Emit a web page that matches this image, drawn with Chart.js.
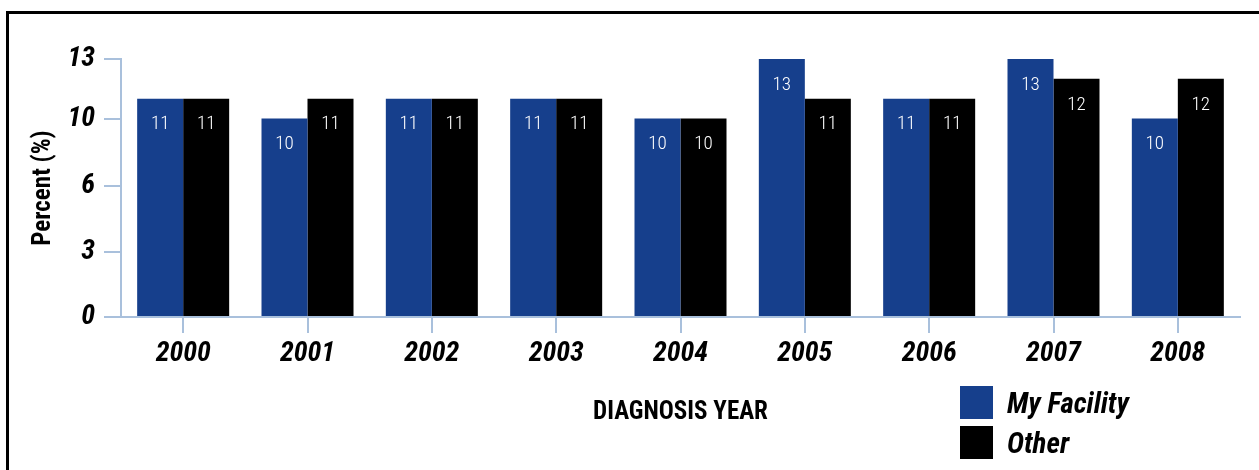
<!DOCTYPE html>
<html>
<head>
<meta charset="utf-8">
<script src="https://cdn.jsdelivr.net/npm/chart.js@4.4.1/dist/chart.umd.min.js"></script>
<style>
  html, body { margin: 0; padding: 0; background: #fff; overflow: hidden; }
  #wrap { position: relative; width: 1259px; height: 470px; }
  #frame { position: absolute; left: 6px; top: 11px; width: 1300px; height: 500px;
           border-top: 3px solid #000; border-left: 3px solid #000; pointer-events: none; }
  canvas { position: absolute; left: 0; top: 0; }
</style>
</head>
<body>
<div id="wrap">
  <canvas id="c" width="1259" height="470"></canvas>
  <div id="frame"></div>
</div>
<script>
// Diagnosis years and the share (%) for each facility group
const years = ['2000', '2001', '2002', '2003', '2004', '2005', '2006', '2007', '2008'];
const myFacility = [11, 10, 11, 11, 10, 13, 11, 13, 10];
const other = [11, 11, 11, 11, 10, 11, 11, 12, 12];
// Y-axis tick positions and the rounded labels printed beside them
const yTickValues = [0, 3.3, 6.6, 10, 13];
const yTickLabels = ['0', '3', '6', '10', '13'];

const BLUE = '#163f8c';
const AXIS = '#a9c0dc';
const NARROW = '"Roboto Condensed", "Liberation Sans Narrow", sans-serif';

// White value labels inside the top of each bar
const barValues = {
  id: 'barValues',
  afterDatasetsDraw(chart) {
    const ctx = chart.ctx;
    ctx.save();
    ctx.fillStyle = '#fff';
    ctx.font = '300 19px ' + NARROW;
    ctx.textAlign = 'center';
    ctx.textBaseline = 'middle';
    chart.data.datasets.forEach((ds, di) => {
      chart.getDatasetMeta(di).data.forEach((bar, i) => {
        ctx.fillText(String(ds.data[i]), bar.x, bar.y + 26);
      });
    });
    ctx.restore();
  }
};

// Legend with square swatches, stacked below the right end of the axis
const squareLegend = {
  id: 'squareLegend',
  afterDraw(chart) {
    const ctx = chart.ctx;
    const area = chart.chartArea;
    const x0 = area.right - 280;
    let y = area.bottom + 69;
    ctx.save();
    ctx.font = 'italic bold 29px ' + NARROW;
    ctx.textBaseline = 'middle';
    ctx.textAlign = 'left';
    chart.data.datasets.forEach(ds => {
      ctx.fillStyle = ds.backgroundColor;
      ctx.fillRect(x0, y, 33, 33);
      ctx.fillStyle = '#000';
      ctx.fillText(ds.label, x0 + 47, y + 20);
      y += 40;
    });
    ctx.restore();
  }
};

new Chart(document.getElementById('c'), {
  type: 'bar',
  data: {
    labels: years,
    datasets: [
      { label: 'My Facility', data: myFacility, backgroundColor: BLUE },
      { label: 'Other', data: other, backgroundColor: '#000000' }
    ]
  },
  options: {
    responsive: false,
    animation: false,
    devicePixelRatio: 1,
    layout: { padding: { top: 59, right: 19, left: 0, bottom: 0 } },
    datasets: { bar: { barPercentage: 1.0, categoryPercentage: 0.74 } },
    plugins: { legend: { display: false }, tooltip: { enabled: false } },
    scales: {
      x: {
        offset: true,
        afterFit(scale) { scale.height = 153; },
        grid: { offset: false, drawOnChartArea: false, drawTicks: true, tickLength: 16, color: AXIS, lineWidth: 2 },
        border: { color: AXIS, width: 2 },
        ticks: { color: '#000', padding: 4, font: { family: NARROW, size: 28, style: 'italic', weight: 'bold' } },
        title: {
          display: true, text: 'DIAGNOSIS YEAR', color: '#000',
          font: { family: NARROW, size: 25, weight: 'bold' },
          padding: { top: 0, bottom: 42 }
        }
      },
      y: {
        min: 0, max: 13,
        afterFit(scale) { scale.width = 121; },
        afterBuildTicks(scale) {
          scale.ticks = yTickValues.map(v => ({ value: v }));
        },
        grid: { drawOnChartArea: false, drawTicks: true, tickLength: 17, color: AXIS, lineWidth: 2 },
        border: { color: AXIS, width: 2 },
        ticks: {
          color: '#000', padding: 9,
          font: { family: NARROW, size: 28, style: 'italic', weight: 'bold' },
          callback: (v, i) => yTickLabels[i]
        },
        title: {
          display: true, text: 'Percent (%)', color: '#000',
          font: { family: NARROW, size: 25, weight: 'bold' },
          padding: { top: 29, bottom: 0 }
        }
      }
    }
  },
  plugins: [barValues, squareLegend]
});
</script>
</body>
</html>
